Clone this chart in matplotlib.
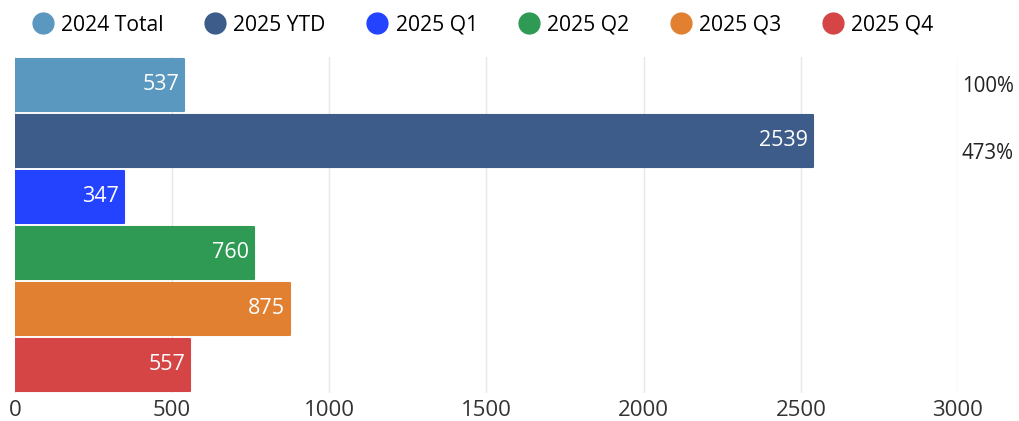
import matplotlib.pyplot as plt
from matplotlib.lines import Line2D
from matplotlib.transforms import blended_transform_factory

# --- Data ---
labels = ["2024 Total", "2025 YTD", "2025 Q1", "2025 Q2", "2025 Q3", "2025 Q4"]
values = [537, 2539, 347, 760, 875, 557]
colors = ["#5a98bf", "#3d5c8a", "#2343ff", "#2e9a54", "#e08030", "#d64545"]
pct_labels = ["100%", "473%"]
x_ticks = [0, 500, 1000, 1500, 2000, 2500, 3000]

plt.rcParams['font.family'] = ['Open Sans', 'DejaVu Sans']

fig = plt.figure(figsize=(10.19, 4.21), dpi=100)
ax = fig.add_axes([15 / 1019, 1 - 393 / 421, 943 / 1019, 336 / 421])

ypos = list(range(len(values)))
bars = ax.barh(ypos, values, height=0.92, color=colors, edgecolor=colors,
               linewidth=1.5, zorder=3)
for b in bars:
    b.set_joinstyle('round')

# value labels inside the bars
for y, v in zip(ypos, values):
    ax.text(v - 15, y, str(v), ha='right', va='center', color='white',
            fontsize=15.5, zorder=4)

# percentage labels on the right
trans = blended_transform_factory(ax.transAxes, ax.transData)
ax.text(1.004, 0.03, pct_labels[0], transform=trans, ha='left', va='center',
        fontsize=14.8, color='#222222')
ax.text(1.004, 1.23, pct_labels[1], transform=trans, ha='left', va='center',
        fontsize=14.8, color='#222222')

ax.set_xlim(0, 3000)
ax.set_ylim(len(values) - 0.5, -0.5)
ax.set_xticks(x_ticks)
ax.set_xticklabels([str(t) for t in x_ticks], fontsize=16, color='#333333')
ax.set_yticks([])
ax.tick_params(axis='x', length=0, pad=5)
ax.grid(axis='x', color='#e8e8e8', linewidth=1, zorder=0)
for s in ax.spines.values():
    s.set_visible(False)

handles = [Line2D([], [], marker='o', linestyle='none', markersize=15,
                  markerfacecolor=c, markeredgecolor=c) for c in colors]
fig.legend(handles, labels, loc='upper left', bbox_to_anchor=(0.012, 1.01),
           ncol=6, frameon=False, fontsize=15.2, handletextpad=0.32,
           columnspacing=1.88, handlelength=1.1)

fig.savefig('out.png', dpi=100)
